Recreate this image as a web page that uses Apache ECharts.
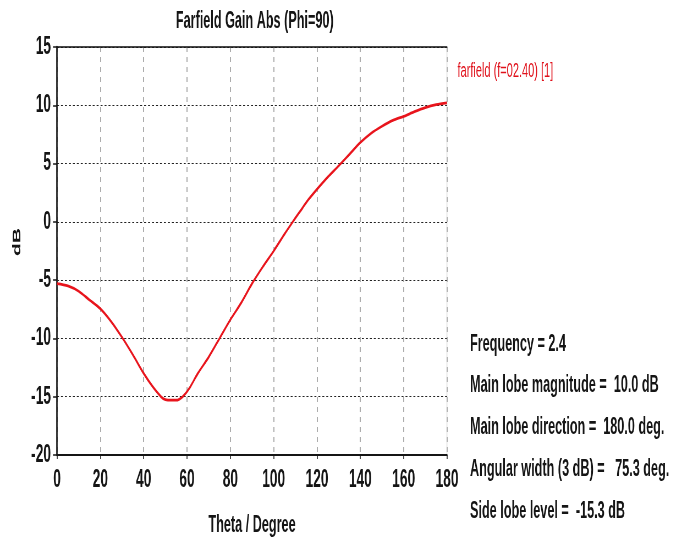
<!DOCTYPE html>
<html>
<head>
<meta charset="utf-8">
<script src="https://cdn.jsdelivr.net/npm/echarts@6/dist/echarts.min.js"></script>
<style>
html,body{margin:0;padding:0;background:#fff;width:686px;height:542px;overflow:hidden;}
#chart{width:1247px;height:542px;transform:scaleX(0.55);transform-origin:0 0;}
</style>
</head>
<body>
<div id="chart"></div>
<script>
const theta = [0,5,10,15,20,25,30,35,40,44,48,50,53,55,58,61,65,70,75,80,85,90,95,100,105,109,112,116,120,125,130,135,140,145,150,155,160,165,170,175,180];
const gain = [-5.3,-5.5,-5.95,-6.7,-7.45,-8.55,-9.9,-11.4,-13.0,-14.1,-15.0,-15.25,-15.3,-15.3,-15.0,-14.3,-13.0,-11.6,-10.0,-8.4,-6.95,-5.3,-3.85,-2.5,-1.05,0.05,0.85,1.9,2.8,3.85,4.8,5.8,6.8,7.6,8.2,8.7,9.05,9.45,9.8,10.05,10.2];
const seriesName = 'farfield (f=02.40) [1]';
const infoLines = ['Frequency = 2.4','Main lobe magnitude =  10.0 dB','Main lobe direction =  180.0 deg.','Angular width (3 dB) =   75.3 deg.','Side lobe level =  -15.3 dB'];

const S = 0.55; // horizontal condensing of the whole picture
const X = v => v / S;
const FONT = '"Liberation Sans",Arial,sans-serif';
const DARK = '#151515';
const chart = echarts.init(document.getElementById('chart'));
const infoY = [345, 386, 428, 470, 512];
chart.setOption({
  animation:false,
  backgroundColor:'#fff',
  title:{text:'Farfield Gain Abs (Phi=90)',left:X(252),textAlign:'center',top:5,
    textStyle:{fontFamily:FONT,fontSize:23,fontWeight:'bold',color:DARK}},
  legend:{show:true,left:X(452),top:56,icon:'none',itemWidth:0,itemGap:0,
    data:[seriesName],textStyle:{fontFamily:FONT,fontSize:20,color:'#e0101a'}},
  grid:{left:X(57),width:X(390),top:47,bottom:87,show:true,borderColor:'#c8c8c8',borderWidth:1,
    containLabel:false,outerBoundsMode:'none'},
  xAxis:[{type:'value',min:0,max:180,interval:20,position:'bottom',
    name:'Theta / Degree',nameLocation:'middle',nameGap:59,
    nameTextStyle:{fontFamily:FONT,fontSize:23,fontWeight:'bold',color:DARK},
    axisLine:{onZero:false,lineStyle:{color:DARK,width:2}},
    axisTick:{show:true,length:4,lineStyle:{color:DARK,width:1.5}},
    axisLabel:{fontFamily:FONT,fontSize:25,fontWeight:'bold',color:DARK,margin:13},
    splitLine:{show:true,lineStyle:{color:'#9a9a9a',type:[5,5],width:1.6}}},
   {type:'value',min:0,max:180,position:'top',
    axisLine:{show:true,onZero:false,lineStyle:{color:DARK,width:1.5}},
    axisTick:{show:false},axisLabel:{show:false},splitLine:{show:false}}],
  yAxis:{type:'value',min:-20,max:15,interval:5,
    name:'dB',nameLocation:'middle',nameGap:X(34),nameRotate:90,
    nameTextStyle:{fontFamily:FONT,fontSize:21,fontWeight:'bold',color:DARK,padding:[0,0,0,18]},
    axisLine:{show:true,onZero:false,lineStyle:{color:DARK,width:2.6}},
    axisTick:{show:true,length:X(4),lineStyle:{color:DARK,width:1.5}},
    axisLabel:{fontFamily:FONT,fontSize:25,fontWeight:'bold',color:DARK,margin:X(6)},
    splitLine:{show:true,lineStyle:{color:'#222',type:[3.6,3.6],width:1}}},
  series:[{name:seriesName,type:'line',data:theta.map((t,i)=>[t,gain[i]]),smooth:0.3,
    showSymbol:false,lineStyle:{color:'#e8141c',width:2.8},itemStyle:{color:'#e8141c'}}],
  graphic: infoLines.map((t,i)=>({type:'text',x:X(470),y:infoY[i],
    style:{text:t,fontFamily:FONT,fontSize:23,fontWeight:'bold',fill:DARK,verticalAlign:'middle'}}))
});
</script>
</body>
</html>
